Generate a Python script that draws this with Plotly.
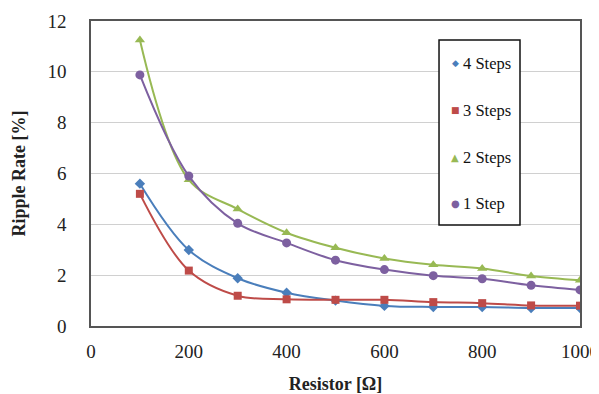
import plotly.graph_objects as go

resistor = [100, 200, 300, 400, 500, 600, 700, 800, 900, 1000]
steps4 = [5.6, 2.99, 1.88, 1.31, 1.0, 0.79, 0.75, 0.75, 0.71, 0.71]
steps3 = [5.2, 2.18, 1.19, 1.05, 1.03, 1.03, 0.94, 0.9, 0.81, 0.8]
steps2 = [11.25, 5.75, 4.6, 3.67, 3.08, 2.66, 2.41, 2.26, 1.97, 1.8]
steps1 = [9.88, 5.9, 4.04, 3.27, 2.59, 2.22, 1.98, 1.86, 1.6, 1.42]
series_names = ["4 Steps", "3 Steps", "2 Steps", "1 Step"]

colors = ["#4A7EBB", "#BE4B48", "#98B954", "#7D60A0"]
symbols = ["diamond", "square", "triangle-up", "circle"]
legend_glyphs = ["◆", "■", "▲", "●"]
sizes = [8, 8, 9, 9]

font_family = "Liberation Serif, serif"
axis_font = dict(size=19, family=font_family, color="#222")
title_font = dict(size=18, family=font_family, color="#222")

fig = go.Figure()
for i, vals in enumerate([steps4, steps3, steps2, steps1]):
    fig.add_trace(go.Scatter(
        x=resistor, y=vals, name=series_names[i], mode="lines+markers",
        line=dict(color=colors[i], width=2, shape="spline", smoothing=1.0),
        marker=dict(symbol=symbols[i], size=sizes[i], color=colors[i]),
        showlegend=False,
    ))

# manual legend box
leg_x0, leg_x1, leg_y0, leg_y1 = 0.7117, 0.8773, 0.331, 0.9377
item_y = [0.862, 0.708, 0.554, 0.403]
mark_x = 0.7444
text_x = 0.7567
fig.add_shape(type="rect", xref="paper", yref="paper",
              x0=leg_x0, x1=leg_x1, y0=leg_y0, y1=leg_y1,
              line=dict(color="#111", width=1.5), fillcolor="white", layer="above")
for i, name in enumerate(series_names):
    fig.add_annotation(x=mark_x, y=item_y[i], xref="paper", yref="paper",
                       text=legend_glyphs[i], showarrow=False, xanchor="center", yanchor="middle",
                       font=dict(family="DejaVu Sans", size=9 if i < 2 else 10, color=colors[i]))
    fig.add_annotation(x=text_x, y=item_y[i], xref="paper", yref="paper",
                       text=name, showarrow=False, xanchor="left", yanchor="middle",
                       font=dict(family=font_family, size=16.5, color="#111"))

fig.update_layout(
    width=591, height=386,
    margin=dict(l=83, r=19, t=13, b=68, autoexpand=False),
    paper_bgcolor="white", plot_bgcolor="white",
    font=dict(family=font_family, color="#222", size=16),
    showlegend=False,
    xaxis=dict(
        range=[0, 1000], tickvals=[0, 200, 400, 600, 800, 1000],
        showgrid=False, showline=True, linecolor="#555", linewidth=1.5,
        mirror=True, ticks="", zeroline=False, ticklabelstandoff=7,
        tickfont=axis_font, automargin=False,
        title=dict(text="<b>Resistor [Ω]</b>", font=title_font, standoff=21),
    ),
    yaxis=dict(
        range=[0, 12], tickvals=[0, 2, 4, 6, 8, 10, 12],
        showgrid=True, gridcolor="#d0d0d0", gridwidth=1,
        showline=True, linecolor="#555", linewidth=1.5, mirror=True,
        ticks="", zeroline=False, ticklabelstandoff=19,
        tickfont=axis_font, automargin=False,
        title=dict(text="<b>Ripple Rate [%]</b>", font=title_font, standoff=17),
    ),
)

fig.write_html("out.html")
